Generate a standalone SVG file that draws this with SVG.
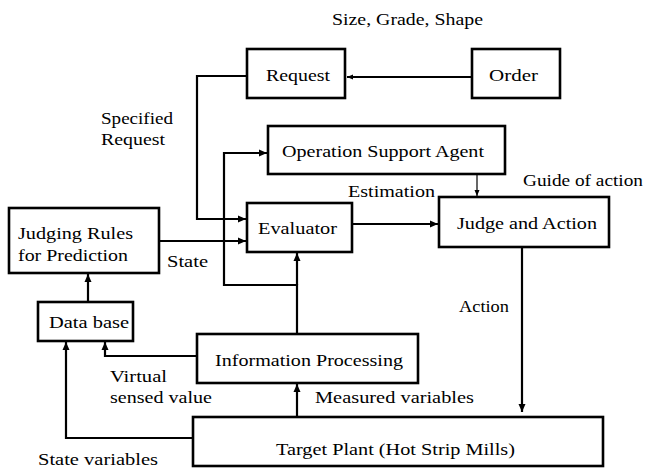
<svg xmlns="http://www.w3.org/2000/svg" width="646" height="470" viewBox="0 0 646 470" font-family="'Liberation Serif', 'Times New Roman', Times, serif">
<style>
.box{fill:#fff;stroke:#000;stroke-width:2.6}
text{font-family:'Liberation Serif','Times New Roman',Times,serif;font-size:17.5px;fill:#000}
.c{fill:none;stroke:#000;stroke-width:2.2}
.thin{fill:none;stroke:#000;stroke-width:1.2}
</style>
<defs>
<marker id="ah" markerUnits="userSpaceOnUse" markerWidth="10" markerHeight="10" refX="8" refY="5" orient="auto">
<path d="M0,1.5 L8,5 L0,8.5 Z" fill="#000"/>
</marker>
<marker id="ahs" markerUnits="userSpaceOnUse" markerWidth="8" markerHeight="8" refX="6" refY="4" orient="auto">
<path d="M0,1.5 L6,4 L0,6.5 Z" fill="#000"/>
</marker>
</defs>
<rect width="646" height="470" fill="#fff"/>
<g id="connectors">
<path class="c" d="M472,77 H347" marker-end="url(#ahs)"/>
<path class="c" d="M247,76 H197 V219 H246" marker-end="url(#ah)"/>
<path class="c" d="M297,334 V285 H224 V153 H267" marker-end="url(#ah)"/>
<path class="c" d="M297,285 V253" marker-end="url(#ah)"/>
<path class="c" d="M159,241 H246" marker-end="url(#ah)"/>
<path class="c" d="M352,224 H438" marker-end="url(#ah)"/>
<path class="thin" d="M477,174 V196" marker-end="url(#ahs)"/>
<path class="c" d="M522,247 V412" marker-end="url(#ah)"/>
<path class="c" d="M88,302 V274" marker-end="url(#ah)"/>
<path class="c" d="M197,356 H105 V342" marker-end="url(#ah)"/>
<path class="c" d="M193,438 H66 V342" marker-end="url(#ah)"/>
<path class="c" d="M297,417 V384" marker-end="url(#ah)"/>
</g>
<g id="request"><rect class="box" x="247" y="49" width="98" height="49"/><text x="266" y="81" textLength="64" lengthAdjust="spacingAndGlyphs">Request</text></g>
<g id="order"><rect class="box" x="472" y="49" width="88" height="49"/><text x="489" y="81" textLength="49" lengthAdjust="spacingAndGlyphs">Order</text></g>
<g id="osa"><rect class="box" x="268" y="126" width="237" height="48"/><text x="282" y="157" textLength="202" lengthAdjust="spacingAndGlyphs">Operation Support Agent</text></g>
<g id="evaluator"><rect class="box" x="247" y="203" width="105" height="49"/><text x="258" y="234" textLength="79" lengthAdjust="spacingAndGlyphs">Evaluator</text></g>
<g id="judge"><rect class="box" x="439" y="197" width="170" height="50"/><text x="457" y="229" textLength="140" lengthAdjust="spacingAndGlyphs">Judge and Action</text></g>
<g id="rules"><rect class="box" x="9" y="208" width="150" height="65"/><text x="18" y="239" textLength="115" lengthAdjust="spacingAndGlyphs">Judging Rules</text><text x="18" y="261" textLength="110" lengthAdjust="spacingAndGlyphs">for Prediction</text></g>
<g id="database"><rect class="box" x="38" y="302" width="95" height="39"/><text x="49" y="328" textLength="80" lengthAdjust="spacingAndGlyphs">Data base</text></g>
<g id="info"><rect class="box" x="197" y="334" width="221" height="49"/><text x="215" y="366" textLength="188" lengthAdjust="spacingAndGlyphs">Information Processing</text></g>
<g id="plant"><rect class="box" x="193" y="417" width="410" height="49"/><text x="276" y="455" textLength="239" lengthAdjust="spacingAndGlyphs">Target Plant (Hot Strip Mills)</text></g>
<g id="labels">
<text x="332" y="25" textLength="151" lengthAdjust="spacingAndGlyphs">Size, Grade, Shape</text>
<text x="101" y="124" textLength="72" lengthAdjust="spacingAndGlyphs">Specified</text>
<text x="101" y="145" textLength="64" lengthAdjust="spacingAndGlyphs">Request</text>
<text x="348" y="197" textLength="87" lengthAdjust="spacingAndGlyphs">Estimation</text>
<text x="523" y="186" textLength="120" lengthAdjust="spacingAndGlyphs">Guide of action</text>
<text x="167" y="267" textLength="41" lengthAdjust="spacingAndGlyphs">State</text>
<text x="459" y="312" textLength="50" lengthAdjust="spacingAndGlyphs">Action</text>
<text x="110" y="382" textLength="57" lengthAdjust="spacingAndGlyphs">Virtual</text>
<text x="110" y="403" textLength="102" lengthAdjust="spacingAndGlyphs">sensed value</text>
<text x="315" y="403" textLength="159" lengthAdjust="spacingAndGlyphs">Measured variables</text>
<text x="38" y="465" textLength="120" lengthAdjust="spacingAndGlyphs">State variables</text>
</g>
</svg>
